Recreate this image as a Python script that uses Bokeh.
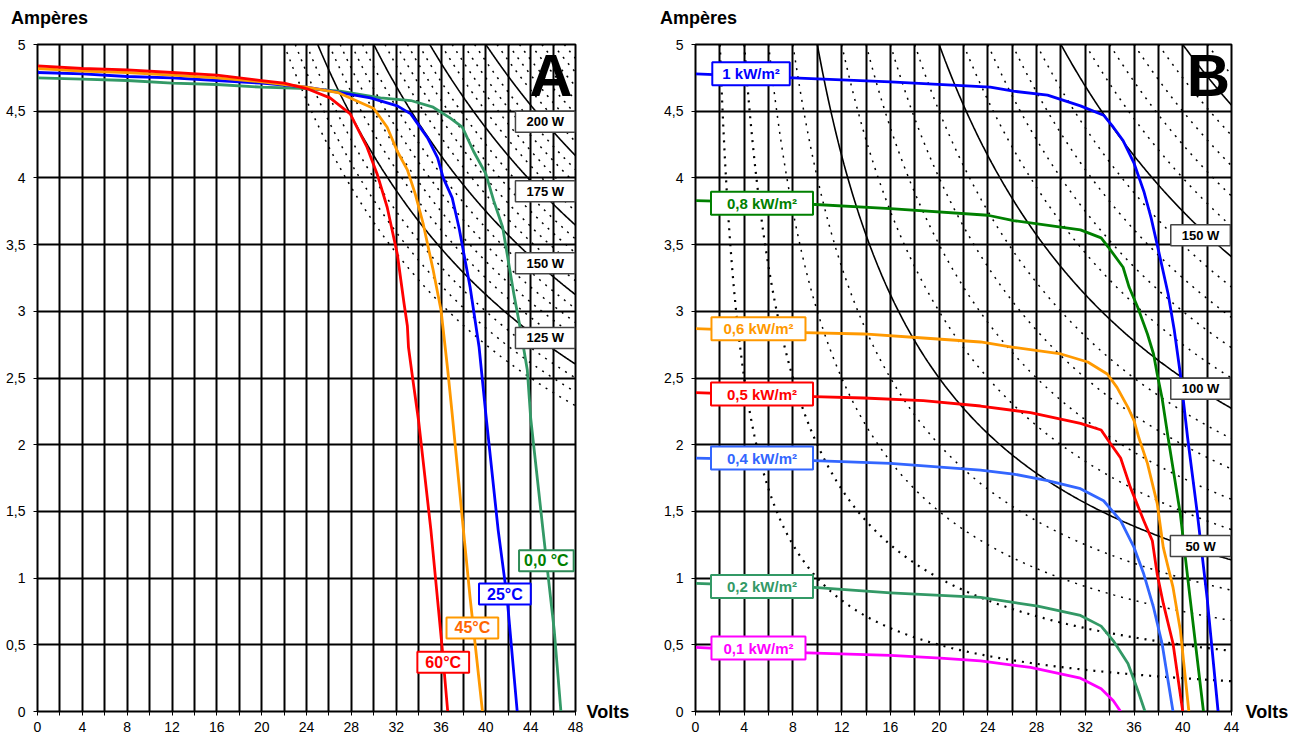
import numpy as np
from bokeh.plotting import figure
from bokeh.models import Range1d, FixedTicker, Label, CustomJSTickFormatter, LinearAxis
from bokeh.layouts import row
from bokeh.embed import file_html
from bokeh.resources import INLINE

FONT = "Liberation Sans"
Y_TICKS = [0, 0.5, 1, 1.5, 2, 2.5, 3, 3.5, 4, 4.5, 5]

# ---------------- Panel A : temperature ----------------
A_X_MAX = 48
A_SOLID_W = [125, 150, 175, 200]
A_DOTTED_W = [110, 115, 120, 130, 135, 140, 145, 155, 160, 165, 170, 180,
              185, 190, 195, 205, 210, 215, 220, 225, 230, 235]

t60_v = [0, 4, 8, 12, 16, 20, 22, 24, 26.1, 27.9, 29.4, 30.3, 31.2, 32.1, 32.7, 33.0, 33.1, 33.5, 34.0, 35.1, 36.1, 36.6]
t60_i = [4.84, 4.82, 4.81, 4.79, 4.77, 4.73, 4.71, 4.67, 4.60, 4.48, 4.23, 4.03, 3.78, 3.43, 3.06, 2.89, 2.73, 2.48, 2.18, 1.36, 0.48, 0.0]

t45_v = [0, 4, 8, 12, 16, 20, 24, 26.8, 30, 31.2, 32.1, 33, 33.7, 34.4, 35.3, 36, 36.2, 36.6, 37.0, 38.0, 38.6, 39.7]
t45_i = [4.82, 4.80, 4.79, 4.77, 4.75, 4.72, 4.68, 4.64, 4.52, 4.38, 4.20, 4.06, 3.88, 3.66, 3.31, 3.01, 2.86, 2.56, 2.23, 1.36, 0.85, 0.0]

t25_v = [0, 4, 8, 12, 16, 20, 24, 27, 29.7, 32.1, 33.3, 34.8, 35.7, 36.2, 37.0, 37.6, 38.6, 39.4, 40.0, 41.1, 41.9, 42.8]
t25_i = [4.79, 4.78, 4.76, 4.75, 4.73, 4.71, 4.68, 4.64, 4.60, 4.54, 4.48, 4.30, 4.15, 4.00, 3.85, 3.63, 3.18, 2.73, 2.23, 1.36, 0.85, 0.0]

t0_v = [0, 4, 8, 12, 16, 20, 24, 27, 30.6, 33.3, 35.3, 36.8, 37.9, 38.9, 40.0, 40.7, 41.5, 41.9, 42.5, 43.1, 43.7, 44.0, 45.1, 46.1, 46.7]
t0_i = [4.75, 4.74, 4.73, 4.71, 4.70, 4.68, 4.67, 4.65, 4.60, 4.58, 4.53, 4.45, 4.38, 4.20, 4.03, 3.83, 3.63, 3.43, 3.13, 2.86, 2.56, 2.20, 1.36, 0.61, 0.0]

A_SERIES = [
    ("0,0 °C", t0_v, t0_i, "#339966"),
    ("25°C", t25_v, t25_i, "#0000ff"),
    ("45°C", t45_v, t45_i, "#ff9900"),
    ("60°C", t60_v, t60_i, "#ff0000"),
]

# ---------------- Panel B : irradiance ----------------
B_X_MAX = 44
B_SOLID_W = [50, 100, 150, 200]
B_DOTTED_LOW_W = [10, 20]
B_DOTTED_W = [30, 40, 60, 70, 80, 90, 110, 120, 130, 140, 160, 170, 180, 190, 210]

g100_v = [0, 8, 16, 24.2, 26.1, 28.9, 31.6, 33.5, 34.3, 35.1, 36.0, 36.8, 37.4, 37.9, 38.8, 39.3, 39.8, 40.4, 41.2, 42.0, 42.9]
g100_i = [4.78, 4.75, 4.72, 4.68, 4.65, 4.62, 4.54, 4.47, 4.38, 4.28, 4.11, 3.90, 3.70, 3.50, 3.13, 2.86, 2.53, 2.05, 1.48, 0.85, 0.0]

g80_v = [0, 8, 16, 24, 26.1, 31.6, 33.3, 33.9, 35.1, 35.6, 36.3, 37.1, 37.6, 37.9, 38.3, 38.8, 39.8, 40.6, 41.7]
g80_i = [3.83, 3.81, 3.77, 3.72, 3.68, 3.61, 3.55, 3.48, 3.33, 3.18, 3.03, 2.83, 2.68, 2.53, 2.35, 2.05, 1.48, 0.85, 0.0]

g60_v = [0, 8.9, 13.8, 18.7, 23.4, 26.1, 30, 32.2, 33.8, 34.6, 35.5, 36, 36.4, 37.1, 37.9, 38.4, 39.2, 39.8, 40.5]
g60_i = [2.87, 2.84, 2.83, 2.80, 2.77, 2.73, 2.68, 2.62, 2.53, 2.43, 2.28, 2.18, 2.05, 1.86, 1.56, 1.23, 0.93, 0.61, 0.0]

g50_v = [0, 9.7, 13.8, 18.7, 23.4, 27.5, 31.6, 33.3, 33.9, 34.9, 35.7, 36.8, 37.5, 37.9, 38.4, 39.2, 40.0]
g50_i = [2.39, 2.36, 2.35, 2.33, 2.29, 2.24, 2.16, 2.11, 2.03, 1.90, 1.68, 1.43, 1.28, 1.03, 0.81, 0.51, 0.0]

g40_v = [0, 9.7, 16, 23.4, 26.1, 28.9, 31.6, 33.5, 34.9, 36.0, 36.8, 37.6, 38.3, 39.2]
g40_i = [1.90, 1.88, 1.86, 1.81, 1.78, 1.73, 1.67, 1.58, 1.43, 1.23, 1.03, 0.78, 0.51, 0.0]

g20_v = [0, 9.7, 16, 23.4, 28.1, 31.6, 33.3, 34.3, 35.5, 36.4, 36.9]
g20_i = [0.96, 0.93, 0.89, 0.855, 0.79, 0.72, 0.64, 0.53, 0.36, 0.135, 0.0]

g10_v = [0, 9.2, 16, 20.1, 23.4, 27.5, 31.6, 33.3, 34.3, 34.9]
g10_i = [0.48, 0.44, 0.42, 0.40, 0.38, 0.33, 0.25, 0.17, 0.08, 0.0]

B_SERIES = [
    ("1 kW/m²", g100_v, g100_i, "#0000ff"),
    ("0,8 kW/m²", g80_v, g80_i, "#008000"),
    ("0,6 kW/m²", g60_v, g60_i, "#ff9900"),
    ("0,5 kW/m²", g50_v, g50_i, "#ff0000"),
    ("0,4 kW/m²", g40_v, g40_i, "#3366ff"),
    ("0,2 kW/m²", g20_v, g20_i, "#339966"),
    ("0,1 kW/m²", g10_v, g10_i, "#ff00ff"),
]


def make_fig(xmax, width, left, right, amp_tick, volts_standoff):
    p = figure(width=width, height=738, x_range=Range1d(0, xmax), y_range=Range1d(0, 5),
               output_backend="svg", toolbar_location=None,
               min_border_left=left, min_border_right=right,
               min_border_top=44, min_border_bottom=27)
    p.background_fill_color = "white"
    p.border_fill_color = "white"
    p.outline_line_color = "black"
    p.outline_line_width = 2
    p.outline_line_alpha = 1
    p.xgrid.ticker = FixedTicker(ticks=list(range(0, xmax + 1, 2)))
    p.ygrid.ticker = FixedTicker(ticks=Y_TICKS)
    for g in (p.xgrid, p.ygrid):
        g.grid_line_color = "black"
        g.grid_line_width = 2
        g.grid_line_alpha = 1
    p.xaxis.ticker = FixedTicker(ticks=list(range(0, xmax + 1, 4)),
                                 minor_ticks=list(range(2, xmax, 4)))
    p.yaxis.ticker = FixedTicker(ticks=Y_TICKS, minor_ticks=[])
    p.yaxis.formatter = CustomJSTickFormatter(code="return tick.toString().replace('.', ',');")
    for ax in (p.xaxis[0], p.yaxis[0]):
        ax.axis_line_color = "black"
        ax.axis_line_width = 1
        ax.major_tick_line_color = "black"
        ax.minor_tick_line_color = "black"
        ax.major_tick_out = 4
        ax.major_tick_in = 0
        ax.minor_tick_out = 4
        ax.minor_tick_in = 0
        ax.major_label_text_font = FONT
        ax.major_label_text_font_size = "14px"
        ax.major_label_text_color = "black"
    p.xaxis.major_label_standoff = 6
    p.yaxis.major_label_standoff = 8

    # unit captions: "Ampères" above the y axis, "Volts" right of the x axis
    top = LinearAxis(ticker=FixedTicker(ticks=[amp_tick], minor_ticks=[]),
                     formatter=CustomJSTickFormatter(code="return 'Ampères';"),
                     axis_line_color=None, major_tick_line_color=None, minor_tick_line_color=None,
                     major_label_text_font=FONT, major_label_text_font_size="18px",
                     major_label_text_font_style="bold", major_label_text_color="black",
                     major_label_standoff=11)
    p.add_layout(top, "above")
    right_ax = LinearAxis(ticker=FixedTicker(ticks=[0], minor_ticks=[]),
                          formatter=CustomJSTickFormatter(code="return 'Volts';"),
                          axis_line_color=None, major_tick_line_color=None, minor_tick_line_color=None,
                          major_label_text_font=FONT, major_label_text_font_size="18px",
                          major_label_text_font_style="bold", major_label_text_color="black",
                          major_label_standoff=volts_standoff)
    p.add_layout(right_ax, "right")
    return p


def iso_power(P, xmax):
    v = np.linspace(P / 5.0, xmax + 0.4, 300)
    return list(v), list(P / v)


def box_label(p, x, y, text, color, border, size, padx, pady, bw=2.0):
    p.add_layout(Label(x=x, y=y, text=text, text_color=color, text_font=FONT,
                       text_font_size=f"{size}px", text_font_style="bold",
                       text_align="center", text_baseline="middle",
                       background_fill_color="white", background_fill_alpha=1.0,
                       border_line_color=border, border_line_width=bw,
                       padding=(padx, pady)))


def big_letter(p, x, y, text):
    p.add_layout(Label(x=x, y=y, text=text, text_color="black", text_font=FONT,
                       text_font_size="60px", text_font_style="bold",
                       text_align="center", text_baseline="middle"))


# ---------------- build A ----------------
pA = make_fig(A_X_MAX, 658, 37, 83, 1.07, 5)
xs, ys = zip(*[iso_power(P, A_X_MAX) for P in A_DOTTED_W])
pA.multi_line(list(xs), list(ys), line_color="black", line_width=1.5, line_dash="2 6")
xs, ys = zip(*[iso_power(P, A_X_MAX) for P in A_SOLID_W])
pA.multi_line(list(xs), list(ys), line_color="black", line_width=1.6)
for name, v, i, c in A_SERIES:
    pA.line(v, i, line_color=c, line_width=2.8, line_join="round")

for P, yy in zip([200, 175, 150, 125], [4.42, 3.90, 3.36, 2.80]):
    box_label(pA, 45.3, yy, f"{P} W", "black", "#444444", 13, 11, 3, 1.5)
box_label(pA, 36.2, 0.37, "60°C", "#ff0000", "#ff0000", 16, 8, 2)
box_label(pA, 38.8, 0.626, "45°C", "#ff6600", "#ff9900", 16, 8, 2)
box_label(pA, 41.7, 0.88, "25°C", "#0000ff", "#0000ff", 16, 8, 2)
box_label(pA, 45.4, 1.13, "0,0 °C", "#008000", "#2e8b57", 16, 5, 2)
big_letter(pA, 45.8, 4.77, "A")

# ---------------- build B ----------------
pB = make_fig(B_X_MAX, 636, 37, 63, 0, 8)
xs, ys = zip(*[iso_power(P, B_X_MAX) for P in B_DOTTED_LOW_W])
pB.multi_line(list(xs), list(ys), line_color="black", line_width=2.2, line_dash="2 6")
xs, ys = zip(*[iso_power(P, B_X_MAX) for P in B_DOTTED_W])
pB.multi_line(list(xs), list(ys), line_color="black", line_width=1.5, line_dash="2 6")
xs, ys = zip(*[iso_power(P, B_X_MAX) for P in B_SOLID_W])
pB.multi_line(list(xs), list(ys), line_color="black", line_width=1.6)
for name, v, i, c in B_SERIES:
    pB.line(v, i, line_color=c, line_width=2.8, line_join="round")

for P, yy in zip([150, 100, 50], [3.57, 2.42, 1.24]):
    box_label(pB, 41.46, yy, f"{P} W", "black", "#444444", 13, 11 if P >= 100 else 15, 3, 1.5)

b_lab_pos = [(4.56, 4.78, 10), (5.46, 3.81, 16), (5.17, 2.87, 12), (5.46, 2.38, 16),
             (5.46, 1.90, 16), (5.46, 0.937, 16), (5.17, 0.476, 12)]
for (name, v, i, c), (lx, ly, pad) in zip(B_SERIES, b_lab_pos):
    box_label(pB, lx, ly, name, c, c, 15, pad, 3)
big_letter(pB, 42.1, 4.77, "B")

layout = row(pA, pB)
open("out.html", "w").write(file_html(layout, INLINE))
